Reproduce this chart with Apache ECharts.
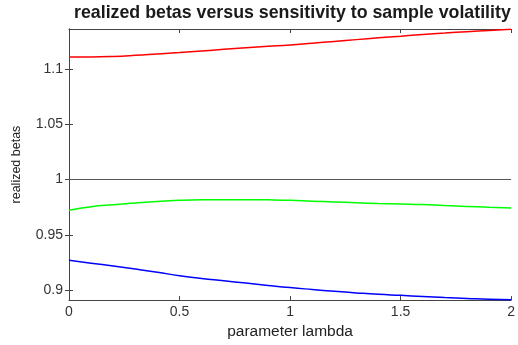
<!DOCTYPE html>
<html>
<head>
<meta charset="utf-8">
<script src="https://cdn.jsdelivr.net/npm/echarts@6/dist/echarts.min.js"></script>
<style>html,body{margin:0;padding:0;background:#fff}#c{width:518px;height:345px}</style>
</head>
<body>
<div id="c"></div>
<script>
const lambda = [0,0.1,0.2,0.3,0.4,0.5,0.6,0.7,0.8,0.9,1.0,1.1,1.2,1.3,1.4,1.5,1.6,1.7,1.8,1.9,2.0];
const redBetas = [1.1108,1.1108,1.1112,1.1122,1.1135,1.1148,1.1162,1.1176,1.1190,1.1203,1.1216,1.1232,1.1248,1.1264,1.1280,1.1295,1.1310,1.1323,1.1336,1.1347,1.1358];
const greenBetas = [0.9722,0.9753,0.9772,0.9788,0.9802,0.9812,0.9817,0.9818,0.9818,0.9816,0.9812,0.9804,0.9797,0.9790,0.9783,0.9778,0.9773,0.9764,0.9757,0.9749,0.9743];
const blueBetas = [0.9270,0.9244,0.9218,0.9191,0.9162,0.9130,0.9105,0.9085,0.9064,0.9043,0.9023,0.9006,0.8990,0.8975,0.8962,0.8953,0.8943,0.8933,0.8925,0.8917,0.8913];
const unityLambda = [0, 2];
const unityBetas = [1, 1];
const yTicks = [0.9, 0.95, 1, 1.05, 1.1];
const xTicks = [0, 0.5, 1, 1.5, 2];
const titleText = 'realized betas versus sensitivity to sample volatility';
const xName = 'parameter lambda';
const yName = 'realized betas';

const pairs = (xs, ys) => xs.map((x, i) => [x, ys[i]]);
const font = 'Liberation Sans, Arial, sans-serif';
const axisCol = '#444';

const chart = echarts.init(document.getElementById('c'), null, {renderer: 'canvas'});
chart.setOption({
  animation: false,
  backgroundColor: '#fff',
  title: {
    text: titleText, left: 74, top: 4, padding: 0,
    textStyle: {fontFamily: font, fontSize: 17.8, fontWeight: 'bold', color: '#1a1a1a'}
  },
  grid: {left: 69, right: 2, top: 29, bottom: 39},
  xAxis: [{
    type: 'value', min: 0, max: 2, interval: 0.5,
    name: xName, nameLocation: 'middle', nameGap: 21,
    nameTextStyle: {fontFamily: font, fontSize: 15.5, color: '#222'},
    axisLine: {show: true, lineStyle: {color: axisCol, width: 1}},
    axisTick: {show: true, inside: true, length: 4, lineStyle: {color: axisCol}, customValues: xTicks},
    axisLabel: {fontFamily: font, fontSize: 14, color: '#333', margin: 5, customValues: xTicks},
    splitLine: {show: false}
  }, {
    type: 'value', min: 0, max: 2, interval: 0.5, position: 'top',
    axisLine: {show: true, lineStyle: {color: axisCol, width: 1}},
    axisTick: {show: true, inside: true, length: 4, lineStyle: {color: axisCol}, customValues: xTicks},
    axisLabel: {show: false}, splitLine: {show: false}
  }],
  yAxis: [{
    type: 'value', min: 0.891, max: 1.136,
    name: yName, nameLocation: 'middle', nameGap: 46, nameRotate: 90,
    nameTextStyle: {fontFamily: font, fontSize: 12.5, color: '#222'},
    axisLine: {show: true, lineStyle: {color: '#111', width: 1}},
    axisTick: {show: true, inside: true, length: 4, lineStyle: {color: axisCol}, customValues: yTicks},
    axisLabel: {fontFamily: font, fontSize: 14, color: '#333', margin: 6, customValues: yTicks},
    splitLine: {show: false}
  }, {
    type: 'value', min: 0.891, max: 1.136, position: 'right',
    axisLine: {show: true, lineStyle: {color: axisCol, width: 1}},
    axisTick: {show: true, inside: true, length: 4, lineStyle: {color: axisCol}, customValues: yTicks},
    axisLabel: {show: false}, splitLine: {show: false}
  }],
  series: [
    {type: 'line', data: pairs(unityLambda, unityBetas), symbol: 'none', lineStyle: {color: '#555', width: 1}},
    {type: 'line', data: pairs(lambda, redBetas), symbol: 'none', smooth: true, lineStyle: {color: '#ff0000', width: 1.5}},
    {type: 'line', data: pairs(lambda, greenBetas), symbol: 'none', smooth: true, lineStyle: {color: '#00ff00', width: 1.5}},
    {type: 'line', data: pairs(lambda, blueBetas), symbol: 'none', smooth: true, lineStyle: {color: '#0000ff', width: 1.5}}
  ]
});
</script>
</body>
</html>
